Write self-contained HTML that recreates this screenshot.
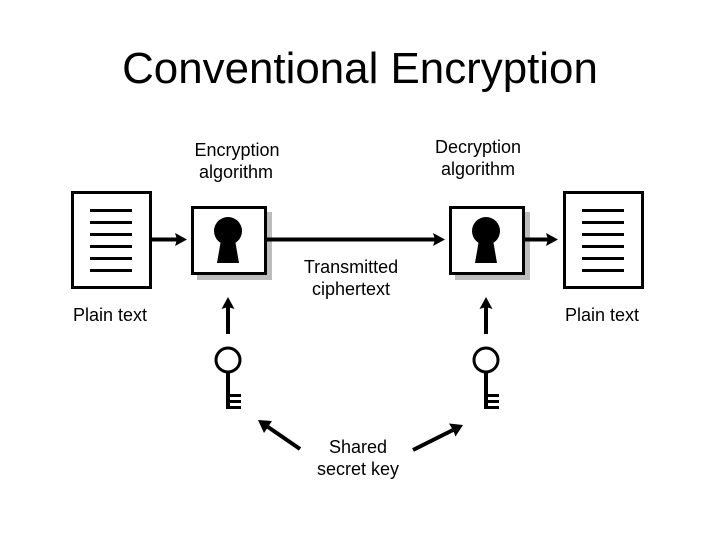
<!DOCTYPE html>
<html><head><meta charset="utf-8"><style>html,body{margin:0;padding:0;background:#fff}svg{display:block}text{font-family:"Liberation Sans",Arial,sans-serif;fill:#000;text-anchor:middle}</style></head><body>
<svg width="720" height="540" viewBox="0 0 720 540" xmlns="http://www.w3.org/2000/svg">
<defs>
<g id="doc" fill="none" stroke="#000"><rect x="1.5" y="1.5" width="78" height="95" fill="#fff" stroke-width="3"/><path d="M19 19.500h42M19 31.500h42M19 43.500h42M19 55.500h42M19 67.500h42M19 79.500h42" stroke-width="3"/></g>
<g id="lock"><rect x="6" y="6" width="75" height="68" fill="#bdbdbd"/><rect x="1.500" y="1.500" width="73" height="66" fill="#fff" stroke="#000" stroke-width="3"/><circle cx="37" cy="25" r="14"/><path d="M30 34h14l4 23H26z"/></g>
<g id="key" fill="none" stroke="#000" stroke-width="3"><circle cx="0" cy="0" r="12"/><path d="M0 12V49" stroke-width="4"/><path d="M0 35.500H13M0 41.500H13M0 47.500H13"/></g>
</defs>
<text x="360" y="83" font-size="43.900">Conventional Encryption</text>
<text x="237" y="156" font-size="18">Encryption</text><text x="236" y="178" font-size="18">algorithm</text>
<text x="478" y="153" font-size="18">Decryption</text><text x="478" y="175" font-size="18">algorithm</text>
<text x="351" y="273" font-size="18">Transmitted</text><text x="351" y="295" font-size="18">ciphertext</text>
<text x="110" y="321" font-size="18">Plain text</text><text x="602" y="321" font-size="18">Plain text</text>
<text x="358" y="453" font-size="18">Shared</text><text x="358" y="475" font-size="18">secret key</text>
<use href="#doc" x="71" y="191"/><use href="#doc" x="563" y="191"/>
<use href="#lock" x="191" y="206"/><use href="#lock" x="449" y="206"/>
<use href="#key" x="228" y="360"/><use href="#key" x="486" y="360"/>
<g stroke="#000" stroke-width="4" fill="none"><path d="M152 239.500H177M267 239.500H436M524 239.500H549M228 334V305M486 334V305M300 449L268 427M413 450L453 430"/></g>
<g fill="#000"><path d="M187 239.500L175 233L177 239.500L175 246Z"/><path d="M445 239.500L433 233L435 239.500L433 246Z"/><path d="M558 239.500L546 233L548 239.500L546 246Z"/>
<path d="M228 297L221.500 309L228 307L234.500 309Z"/><path d="M486 297L479.500 309L486 307L492.500 309Z"/>
<path d="M258 420L272 421L268 427L264 433Z"/><path d="M463 425L449 423.500L453 430L455.500 436.500Z"/></g>
</svg></body></html>
